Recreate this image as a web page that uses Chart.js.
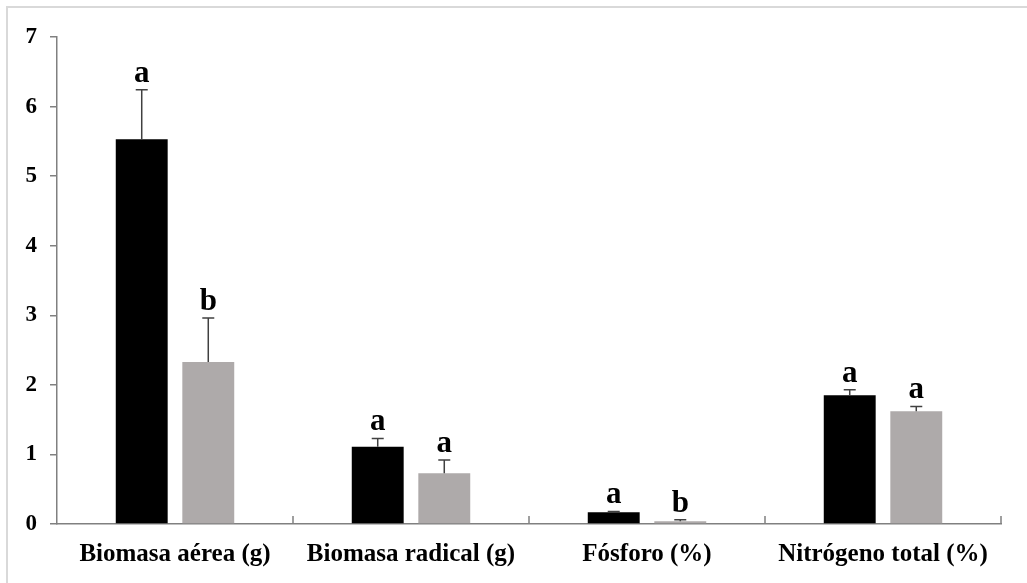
<!DOCTYPE html>
<html>
<head>
<meta charset="utf-8">
<script src="https://cdn.jsdelivr.net/npm/chart.js@4/dist/chart.umd.min.js"></script>
<style>
  html, body { margin: 0; padding: 0; background: #fff; }
  #wrap { position: relative; width: 1027px; height: 583px; overflow: hidden; }
  #frame { position: absolute; left: 6px; top: 6px; width: 1100px; height: 700px;
           border-left: 2px solid #d9d9d9; border-top: 2px solid #d9d9d9; }
  canvas { position: absolute; left: 0; top: 0; }
</style>
</head>
<body>
<div id="wrap">
  <div id="frame"></div>
  <canvas id="c" width="1027" height="583"></canvas>
</div>
<script>
const categories = ['Biomasa aérea (g)', 'Biomasa radical (g)', 'Fósforo (%)', 'Nitrógeno total (%)'];
const blackValues = [5.53, 1.11, 0.17, 1.85];
const blackErrors = [0.71, 0.12, 0.01, 0.08];
const greyValues = [2.33, 0.73, 0.04, 1.62];
const greyErrors = [0.63, 0.19, 0.02, 0.07];
const blackLetters = ['a', 'a', 'a', 'a'];
const greyLetters = ['b', 'a', 'b', 'a'];
const yTicks = [0, 1, 2, 3, 4, 5, 6, 7];

const SERIF = "'Liberation Serif', 'Times New Roman', serif";

const errorLetterPlugin = {
  id: 'errorLetters',
  afterDatasetsDraw(chart) {
    const ctx = chart.ctx;
    const yScale = chart.scales.y;
    const errs = [blackErrors, greyErrors];
    const letters = [blackLetters, greyLetters];
    chart.data.datasets.forEach((ds, di) => {
      const meta = chart.getDatasetMeta(di);
      meta.data.forEach((bar, i) => {
        const x = bar.x;
        const yBar = yScale.getPixelForValue(ds.data[i]);
        const yTop = yScale.getPixelForValue(ds.data[i] + errs[di][i]);
        ctx.save();
        ctx.strokeStyle = '#404040';
        ctx.lineWidth = 1.5;
        ctx.beginPath();
        ctx.moveTo(x, yBar);
        ctx.lineTo(x, yTop);
        ctx.moveTo(x - 6, yTop);
        ctx.lineTo(x + 6, yTop);
        ctx.stroke();
        ctx.fillStyle = '#000';
        ctx.font = 'bold 31px ' + SERIF;
        ctx.textAlign = 'center';
        ctx.textBaseline = 'alphabetic';
        ctx.fillText(letters[di][i], x, yTop - 8);
        ctx.restore();
      });
    });
    // upward category separator ticks on the x axis
    const xs = chart.scales.x;
    const bottom = chart.chartArea.bottom;
    const n = categories.length;
    const w = (chart.chartArea.right - chart.chartArea.left) / n;
    ctx.save();
    ctx.strokeStyle = '#808080';
    ctx.lineWidth = 1.5;
    ctx.beginPath();
    for (let i = 1; i <= n; i++) {
      const x = xs.getPixelForValue(i - 1) + w / 2;
      ctx.moveTo(x, bottom);
      ctx.lineTo(x, bottom - 8);
    }
    ctx.stroke();
    ctx.restore();
  }
};

new Chart(document.getElementById('c'), {
  type: 'bar',
  data: {
    labels: categories,
    datasets: [
      { label: 'Tratamiento 1', data: blackValues, backgroundColor: '#000000', borderWidth: 0,
        categoryPercentage: 0.564, barPercentage: 0.78 },
      { label: 'Tratamiento 2', data: greyValues, backgroundColor: '#aeaaaa', borderWidth: 0,
        categoryPercentage: 0.564, barPercentage: 0.78 }
    ]
  },
  options: {
    responsive: false,
    animation: false,
    layout: { padding: { left: 0, right: 26, top: 37, bottom: 0 } },
    plugins: { legend: { display: false }, tooltip: { enabled: false } },
    scales: {
      x: {
        grid: { display: true, drawOnChartArea: false, drawTicks: false },
        border: { display: true, color: '#808080', width: 1.5 },
        ticks: { color: '#000', font: { family: SERIF, size: 25, weight: 'bold' }, padding: 16, maxRotation: 0 },
        afterFit(s) { s.height = 59; }
      },
      y: {
        min: 0, max: 7,
        afterBuildTicks(s) { s.ticks = yTicks.map(v => ({ value: v })); },
        grid: { drawOnChartArea: false, drawTicks: true, tickLength: 7, color: '#808080', lineWidth: 1.5 },
        border: { display: true, color: '#808080', width: 1.5 },
        ticks: { color: '#000', font: { family: SERIF, size: 23, weight: 'bold' }, padding: 13 },
        afterFit(s) { s.width = 57; }
      }
    }
  },
  plugins: [errorLetterPlugin]
});
</script>
</body>
</html>
